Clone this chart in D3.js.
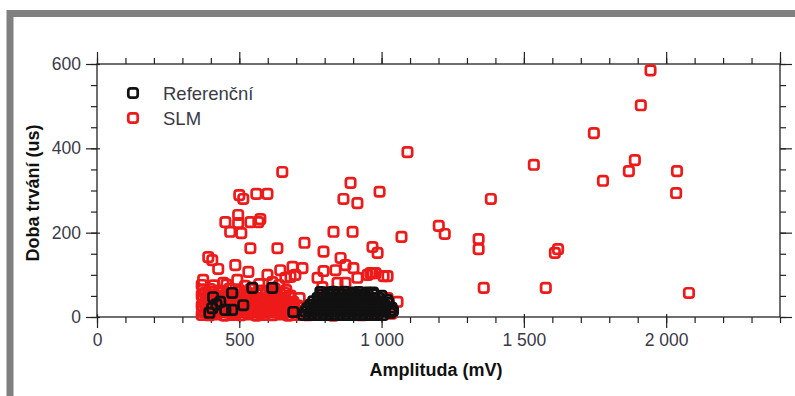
<!DOCTYPE html>
<html>
<head>
<meta charset="utf-8">
<script src="https://cdn.jsdelivr.net/npm/d3@7"></script>
<style>
  body { margin: 0; background: #fff; }
  svg { display: block; }
</style>
</head>
<body>
<svg id="chart" width="795" height="396"></svg>
<script>
// Series labels and colours
const seriesNames = ["Referenční", "SLM"];
const seriesColors = ["#111111", "#ee1a1a"];

// Axis ticks
const xTicks = [0, 500, 1000, 1500, 2000];
const yTicks = [0, 200, 400, 600];
const xDomain = [0, 2400];
const yDomain = [0, 600];

// SLM measurements: [amplitude mV, duration us]
const slmPoints = [
  [1945,585],[1911,502],[1746,436],[1890,372],[1869,346],[2038,346],[1778,323],[2035,294],[2080,57],
  [1535,361],[1384,280],[1091,391],[1201,216],[1222,197],[1341,185],[1341,161],[1620,161],[1609,152],[1359,69],[1577,69],
  [891,318],[993,297],[915,270],[866,280],[898,202],[831,202],[1070,190],[968,166],[986,152],[729,176],[796,155],
  [651,344],[500,289],[514,280],[560,292],[599,292],[451,225],[496,242],[496,223],[539,225],[567,225],[574,232],[468,202],[507,199],[539,163],[634,163],
  [391,142],[405,135],[426,114],[486,123],[532,107],[373,88],[444,81],[493,88],[599,100],[644,111],[687,119],[616,83],[662,93],[697,100],
  [722,116],[796,109],[856,140],[873,123],[838,111],[968,104],[1021,97],[775,93],[915,93],[792,71],[845,81],[873,81],[951,100],
  [1021,45],[680,95],[690,36],[901,116],[961,104],[979,104],[1007,97],[1056,36],[1021,24],
  [368,5],[395,4],[420,6],[448,3],[476,5],[505,4],[532,6],[560,3],[588,5],[617,4],[645,6],[672,3],[700,5],[740,4],[780,6],[830,3],[880,5],[930,4],[985,6],[1035,8],
  [380,10],[408,10],[434,11],[462,10],[490,9],[518,11],[546,10],[574,9],[602,11],[630,10],[658,9],[686,11],
  [372,15],[405,16],[432,14],[460,17],[490,15],[518,16],[546,14],[575,17],[603,15],[632,16],[660,14],[688,17],[720,15],
  [384,21],[412,22],[440,21],[468,20],[497,22],[525,21],[553,20],[581,22],[609,21],[637,20],[665,22],[693,21],
  [368,27],[390,28],[418,26],[447,29],[476,27],[505,28],[534,26],[562,29],[591,27],[620,28],[648,26],[676,29],[705,27],
  [380,33],[404,34],[432,33],[461,32],[490,34],[519,33],[548,32],[577,34],[606,33],[634,32],[662,34],[690,33],
  [372,40],[400,41],[430,39],[458,42],[487,40],[517,41],[546,39],[575,42],[604,40],[633,41],[662,39],[712,45],
  [384,46],[414,47],[444,46],[474,45],[503,47],[532,46],[561,45],[590,47],[619,46],[648,45],[675,47],
  [368,52],[392,53],[422,51],[452,54],[482,52],[512,53],[545,51],[578,54],[610,52],[645,53],[680,51],
  [380,58],[408,59],[438,58],[468,57],[497,59],[528,58],[560,57],[594,59],[628,58],[660,57],
  [372,64],[398,66],[430,63],[465,67],[500,64],[540,66],[580,63],[625,67],[665,64],
  [368,76],[410,75],[455,77],[520,74],[570,78],[640,76]
];

// Reference measurements: [amplitude mV, duration us]
const refPoints = [
  [408,47],[475,57],[546,69],[616,69],[405,21],[433,36],[451,17],[475,17],[514,28],[690,12],[420,30],[395,10],
  [725,5],[745,5],[765,5],[785,5],[805,5],[825,5],[845,5],[865,5],[885,5],[905,5],[925,5],[945,5],[965,5],[985,5],[1005,5],
  [732,13],[752,13],[772,13],[792,13],[812,13],[832,13],[852,13],[872,13],[892,13],[912,13],[932,13],[952,13],[972,13],[992,13],[1012,13],
  [740,21],[760,21],[780,21],[800,21],[820,21],[840,21],[860,21],[880,21],[900,21],[920,21],[940,21],[960,21],[980,21],[1000,21],
  [750,29],[770,29],[790,29],[810,29],[830,29],[850,29],[870,29],[890,29],[910,29],[930,29],[950,29],[970,29],[990,29],[1010,29],
  [760,37],[780,37],[800,37],[820,37],[840,37],[860,37],[880,37],[900,37],[920,37],[940,37],[960,37],[980,37],[1000,37],
  [775,45],[795,45],[815,45],[835,45],[855,45],[875,45],[895,45],[915,45],[935,45],[955,45],[975,45],[990,45],
  [790,53],[810,53],[830,53],[850,53],[870,53],[890,53],[910,53],[930,53],[950,53],[970,53],
  [785,59],[810,58],[830,60],[850,58],[870,60],[900,58],[920,59],[950,58],[970,58],[1000,50],
  [1020,40],[1025,33],[1035,22],[1030,10],[1040,15]
];

const svg = d3.select("#chart");
const W = 795, H = 396;
const plot = { left: 97, right: 780, top: 64, bottom: 317 };

// Grey frame around the figure
svg.append("rect")
  .attr("x", 10).attr("y", 13.5)
  .attr("width", W + 20).attr("height", H + 20)
  .attr("fill", "none").attr("stroke", "#808080").attr("stroke-width", 7);

const x = d3.scaleLinear().domain(xDomain).range([plot.left, plot.right]);
const y = d3.scaleLinear().domain(yDomain).range([plot.bottom, plot.top]);

const loc = d3.formatLocale({ decimal: ",", thousands: "\u00a0", grouping: [3], currency: ["", ""] });
const fmt = loc.format(",d");

const tickFont = "'Liberation Sans', Arial, sans-serif";
const labelColor = "#3a3a48";

// Minor ticks (every 100 mV / 50 us) on all four sides
const xMinor = d3.range(xDomain[0], xDomain[1] + 1, 100);
const yMinor = d3.range(yDomain[0], yDomain[1] + 1, 50);

function styleAxis(g) {
  g.select(".domain").remove();
  g.selectAll("line").attr("stroke", "#222").attr("stroke-width", 1.2);
}

svg.append("g").attr("transform", `translate(0,${plot.bottom})`)
  .call(d3.axisBottom(x).tickValues(xMinor).tickSize(6).tickFormat(""))
  .call(styleAxis);
svg.append("g").attr("transform", `translate(0,${plot.top})`)
  .call(d3.axisTop(x).tickValues(xMinor).tickSize(6).tickFormat(""))
  .call(styleAxis);
svg.append("g").attr("transform", `translate(${plot.left},0)`)
  .call(d3.axisLeft(y).tickValues(yMinor).tickSize(6).tickFormat(""))
  .call(styleAxis);
svg.append("g").attr("transform", `translate(${plot.right},0)`)
  .call(d3.axisRight(y).tickValues(yMinor).tickSize(6).tickFormat(""))
  .call(styleAxis);

// Major ticks with labels
const gx = svg.append("g").attr("transform", `translate(0,${plot.bottom})`)
  .call(d3.axisBottom(x).tickValues(xTicks).tickSize(11).tickPadding(6).tickFormat(fmt))
  .call(styleAxis);
gx.selectAll("line").attr("y1", -3);
gx.selectAll("text").attr("font-family", tickFont).attr("font-size", 17.5).attr("fill", labelColor);

const gy = svg.append("g").attr("transform", `translate(${plot.left},0)`)
  .call(d3.axisLeft(y).tickValues(yTicks).tickSize(11).tickPadding(5).tickFormat(fmt))
  .call(styleAxis);
gy.selectAll("line").attr("x1", 3);
gy.selectAll("text").attr("font-family", tickFont).attr("font-size", 17.5).attr("fill", labelColor);

svg.append("g").attr("transform", `translate(0,${plot.top})`)
  .call(d3.axisTop(x).tickValues(xTicks.concat([2400])).tickSize(12).tickFormat(""))
  .call(styleAxis);
svg.append("g").attr("transform", `translate(${plot.right},0)`)
  .call(d3.axisRight(y).tickValues(yTicks).tickSize(12).tickFormat(""))
  .call(styleAxis);

// Plot frame
svg.append("rect")
  .attr("x", plot.left).attr("y", plot.top)
  .attr("width", plot.right - plot.left).attr("height", plot.bottom - plot.top)
  .attr("fill", "none").attr("stroke", "#222").attr("stroke-width", 1.3);

// Markers: hollow rounded squares
const ms = 9.4;
function drawSeries(data, color) {
  svg.append("g").selectAll("rect").data(data).join("rect")
    .attr("x", d => x(d[0]) - ms / 2)
    .attr("y", d => y(d[1]) - ms / 2)
    .attr("width", ms).attr("height", ms)
    .attr("rx", 2.6).attr("ry", 2.6)
    .attr("fill", "none")
    .attr("stroke", color)
    .attr("stroke-width", 2.7);
}
drawSeries(slmPoints, seriesColors[1]);
drawSeries(refPoints, seriesColors[0]);

// Legend
const legend = svg.append("g");
seriesNames.forEach((name, i) => {
  const cy = 93 + i * 25;
  legend.append("rect")
    .attr("x", 133 - ms / 2).attr("y", cy - ms / 2)
    .attr("width", ms).attr("height", ms)
    .attr("rx", 2.6).attr("ry", 2.6)
    .attr("fill", "none").attr("stroke", seriesColors[i]).attr("stroke-width", 2.7);
  legend.append("text")
    .attr("x", 163).attr("y", cy + 6.5)
    .attr("font-family", tickFont).attr("font-size", 18.5).attr("fill", labelColor)
    .text(name);
});

// Axis titles
svg.append("text")
  .attr("x", 436).attr("y", 376)
  .attr("text-anchor", "middle")
  .attr("font-family", tickFont).attr("font-size", 18).attr("font-weight", "bold").attr("fill", "#111")
  .text("Amplituda (mV)");
svg.append("text")
  .attr("transform", "translate(39,193) rotate(-90)")
  .attr("text-anchor", "middle")
  .attr("font-family", tickFont).attr("font-size", 18).attr("font-weight", "bold").attr("fill", "#111")
  .text("Doba trvání (us)");
</script>
</body>
</html>
